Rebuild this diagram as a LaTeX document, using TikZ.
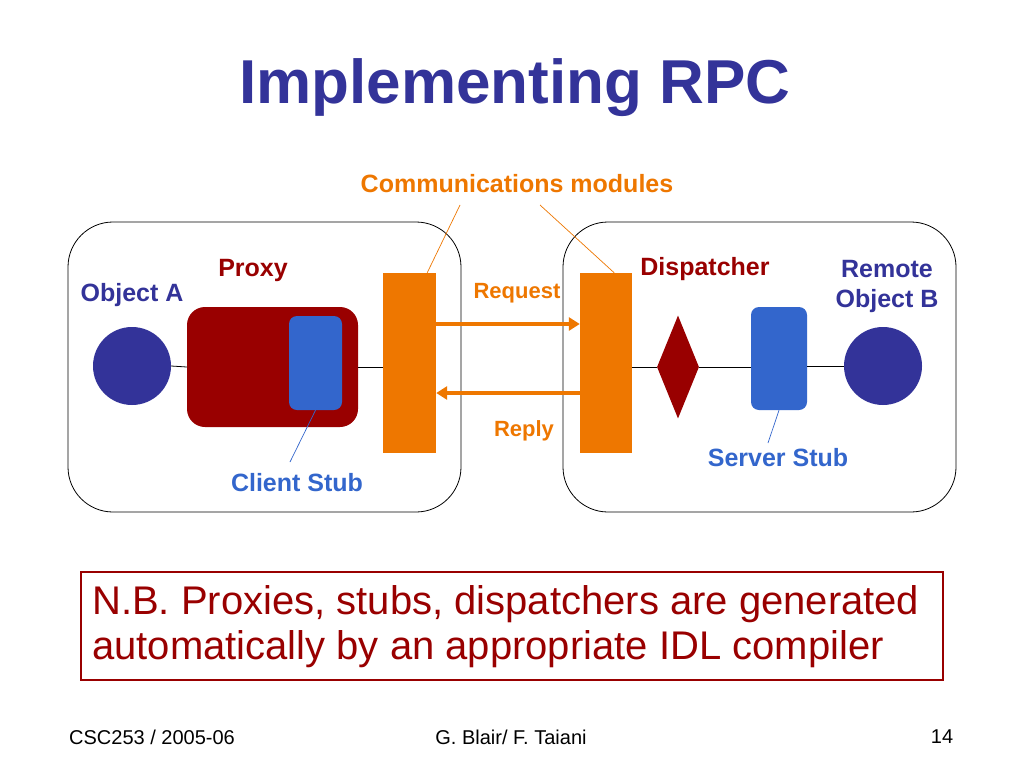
\documentclass[tikz,border=0pt]{standalone}
\usepackage{fontspec}
\setmainfont{Liberation Sans}
\usetikzlibrary{shapes.geometric,arrows.meta}
\definecolor{tblue}{HTML}{333399}
\definecolor{sblue}{HTML}{3366CC}
\definecolor{dred}{HTML}{990000}
\definecolor{orng}{HTML}{EE7700}
\newcommand{\fs}[1]{\fontsize{#1}{#1}\selectfont}
\tikzset{
  outer/.style={draw=black, line width=0.8pt, rounded corners=45pt},
  obj/.style={circle, fill=tblue, minimum size=78pt, inner sep=0pt},
  stub/.style={fill=sblue, rounded corners=8pt, inner sep=0pt},
  comm/.style={fill=orng, inner sep=0pt, minimum width=53pt, minimum height=180pt},
  lbl/.style={font=\fs{25}\bfseries, inner sep=0pt},
  conn/.style={draw=black, line width=0.8pt},
  ptr/.style={line width=0.7pt},
  arr/.style={draw=orng, line width=4pt, -{Triangle[length=11pt,width=13pt]}},
  foot/.style={font=\fs{20}, inner sep=0pt},
}
\begin{document}
\begin{tikzpicture}[x=1pt,y=-1pt]
\useasboundingbox[fill=white] (0,0) rectangle (1024,768);
% title
\node[text=tblue, font=\fs{62}\bfseries, inner sep=0pt, anchor=base] (title) at (515,103) {Implementing RPC};
% outer boxes
\draw[outer] (68,222) rectangle (461,512);
\draw[outer] (563,222) rectangle (956,512);
% left side
\node[obj] (A) at (132,366) {};
\node[fill=dred, rounded corners=18pt, minimum width=171pt, minimum height=120pt, inner sep=0pt] (proxy) at (272.5,367) {};
\node[stub, minimum width=53pt, minimum height=94pt] (cstub) at (315.5,363) {};
\node[comm] (commL) at (409.5,363) {};
% right side
\node[comm, minimum width=52pt] (commR) at (606,363) {};
\node[diamond, fill=dred, minimum width=42pt, minimum height=103pt, inner sep=0pt] (disp) at (678,367) {};
\node[stub, minimum width=56pt, minimum height=103pt] (sstub) at (779,358.5) {};
\node[obj] (B) at (883,366) {};
% connecting lines
\draw[conn] (A.east) -- (proxy.west);
\draw[conn] (proxy.east) -- (proxy.east -| commL.west);
\draw[conn] (disp.west -| commR.east) -- (disp.west);
\draw[conn] (disp.east) -- (disp.east -| sstub.west);
\draw[conn] (B.west -| sstub.east) -- (B.west);
% arrows
\draw[arr] ([yshift=39pt]commL.east) -- ([yshift=39pt]commR.west);
\draw[arr] ([yshift=-30pt]commR.west) -- ([yshift=-30pt]commL.east);
% labels
\node[lbl, text=tblue] (lA) at (132,295) {Object A};
\node[lbl, text=dred] (lproxy) at (253,270) {Proxy};
\node[lbl, text=sblue] (lcstub) at (297,483) {Client Stub};
\node[lbl, text=orng] (lcomm) at (517,184) {Communications modules};
\node[lbl, text=orng, font=\fs{22}\bfseries] (lreq) at (517,293) {Request};
\node[lbl, text=orng, font=\fs{22}\bfseries] (lrep) at (524,431) {Reply};
\node[lbl, text=dred] (ldisp) at (705,269) {Dispatcher};
\node[lbl, text=tblue, align=center, font=\fontsize{25}{30}\selectfont\bfseries] (lB) at (887,286) {Remote\\Object B};
\node[lbl, text=sblue] (lsstub) at (778,458) {Server Stub};
% pointer lines
\coordinate (cmL) at (460,205);
\coordinate (cmR) at (540,205);
\coordinate (csL) at (290,462);
\coordinate (ssL) at (768,443);
\draw[ptr, orng] ([xshift=-9pt]commL.north east) -- (cmL);
\draw[ptr, orng] ([xshift=-18pt]commR.north east) -- (cmR);
\draw[ptr, sblue] (cstub.south) -- (csL);
\draw[ptr, sblue] (sstub.south) -- (ssL);
% note
\node[draw=dred, line width=2pt, minimum width=862pt, minimum height=108pt, inner sep=0pt] (nbbox) at (512,626) {};
\node[text=dred, font=\fontsize{40}{45}\selectfont, align=left, anchor=west, inner sep=0pt] (nb) at (92,627) {N.B. Proxies, stubs, dispatchers are generated\\automatically by an appropriate IDL compiler};
% footer
\node[foot] (f1) at (152,737) {CSC253 / 2005-06};
\node[foot] (f2) at (511,737) {G. Blair/ F. Taiani};
\node[foot] (f3) at (942,737) {14};
\end{tikzpicture}
\end{document}
